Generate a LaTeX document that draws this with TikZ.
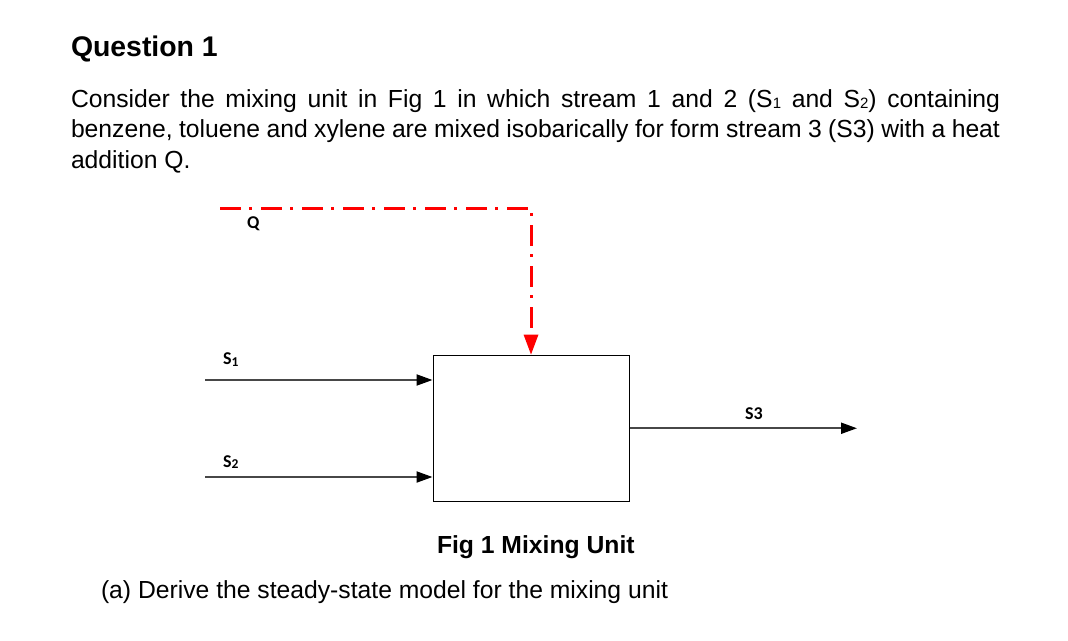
\documentclass[tikz,border=0pt]{standalone}
\usepackage{fontspec}
\setmainfont{Liberation Sans}
\newfontfamily\carlito{Carlito}
\usetikzlibrary{arrows.meta}
\newcommand{\bodysize}{\fontsize{24.7}{30.5}\selectfont}
\newcommand{\smallsub}[1]{{\fontsize{15}{15}\selectfont\raisebox{-1.2pt}{#1}}}
\newcommand{\lblsub}[1]{{\fontsize{13.5}{13.5}\selectfont\raisebox{-1.8pt}{#1}}}
\begin{document}
\begin{tikzpicture}[x=1pt,y=-1pt,
  txt/.style={anchor=base west,inner sep=0pt,outer sep=0pt,font=\bodysize},
  lbl/.style={anchor=base west,inner sep=0pt,outer sep=0pt,font=\carlito\bfseries\fontsize{18}{18}\selectfont},
  flow/.style={draw=black!72,line width=2pt,-{Triangle[length=16pt,width=11pt,color=black]}},
  heat/.style={draw=red,line width=3pt,dash pattern=on 21pt off 8pt on 3pt off 9pt,
    -{Triangle[length=20pt,width=15pt,color=red,fill=red,line width=0pt]}},
  unitbox/.style={draw=black,line width=1pt,minimum width=196pt,minimum height=146.5pt,inner sep=0pt}]
\useasboundingbox (0,0) rectangle (1068,640);
% texts
\node[txt,font=\bfseries\fontsize{28.4}{34}\selectfont] (title) at (71,56.5) {Question 1};
\node[txt] (l1) at (71,107) {\makebox[929pt][s]{Consider the mixing unit in Fig 1 in which stream 1 and 2 (S\smallsub{1} and S\smallsub{2}) containing}};
\node[txt] (l2) at (71,137.5) {\makebox[929pt][s]{benzene, toluene and xylene are mixed isobarically for form stream 3 (S3) with a heat}};
\node[txt] (l3) at (71,168) {addition Q.};
\node[txt,font=\bfseries\bodysize] (cap) at (437,553) {Fig 1 Mixing Unit};
\node[txt] (qa) at (101,598.5) {(a) Derive the steady-state model for the mixing unit};
% unit
\node[unitbox] (mix) at (531,428.25) {};
% heat line
\coordinate (qin) at (220,208.3);
\draw[heat] (qin) -- (qin -| mix.north) -- (mix.north);
\node[lbl] (qlab) at (247,228.5) {Q};
% inlets
\coordinate (s1in) at (205,380);
\coordinate (s2in) at (205,477);
\draw[flow] (s1in) -- (s1in -| mix.west);
\draw[flow] (s2in) -- (s2in -| mix.west);
\node[lbl] (s1lab) at (223,364.5) {S\lblsub{1}};
\node[lbl] (s2lab) at (223,467) {S\lblsub{2}};
% outlet
\coordinate (s3out) at (857,428.25);
\draw[flow] (mix.east) -- (s3out);
\node[lbl] (s3lab) at (745,419.5) {S3};
\end{tikzpicture}
\end{document}
